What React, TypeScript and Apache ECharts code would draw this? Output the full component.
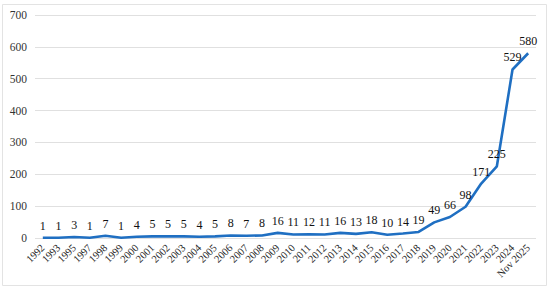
import React, { useEffect, useRef } from "react";
import * as echarts from "echarts";

const categories = ["1992","1993","1995","1997","1998","1999","2000","2001","2002","2003","2004","2005","2006","2007","2008","2009","2010","2011","2012","2013","2014","2015","2016","2017","2018","2019","2020","2021","2022","2023","2024","Nov 2025"];
const values = [1,1,3,1,7,1,4,5,5,5,4,5,8,7,8,16,11,12,11,16,13,18,10,14,19,49,66,98,171,225,529,580];
const yTicks = [0, 100, 200, 300, 400, 500, 600, 700];

const SERIF = "Liberation Serif";

export default function App() {
  const ref = useRef<HTMLDivElement>(null);
  useEffect(() => {
    if (!ref.current) return;
    const chart = echarts.init(ref.current, null, { renderer: "svg" });
    chart.setOption({
      animation: false,
      textStyle: { fontFamily: SERIF },
      graphic: [
        {
          type: "rect",
          shape: { x: 2.5, y: 4.5, width: 544, height: 281 },
          style: { fill: "none", stroke: "#e3e3e3", lineWidth: 1 },
          silent: true,
          z: -1,
        },
      ],
      grid: { left: 35, right: 14, top: 15, bottom: 53, containLabel: false },
      xAxis: {
        type: "category",
        data: categories,
        boundaryGap: true,
        axisLine: { show: false },
        axisTick: { show: false },
        axisLabel: {
          rotate: 45,
          interval: 0,
          fontSize: 10.5,
          color: "#222",
          fontFamily: SERIF,
          margin: 8,
        },
      },
      yAxis: {
        type: "value",
        min: yTicks[0],
        max: yTicks[yTicks.length - 1],
        interval: 100,
        axisLine: { show: false },
        axisTick: { show: false },
        splitLine: { lineStyle: { color: "#e0e0e0", width: 1 } },
        axisLabel: {
          fontSize: 11.5,
          color: "#333",
          fontFamily: SERIF,
          margin: 8,
        },
      },
      series: [
        {
          type: "line",
          data: values,
          showSymbol: true,
          symbol: "circle",
          symbolSize: 0.01,
          itemStyle: { color: "#1f6fc2" },
          lineStyle: { color: "#1f6fc2", width: 2.6 },
          label: {
            show: true,
            position: "top",
            distance: 6,
            fontSize: 12,
            color: "#111",
            fontFamily: SERIF,
          },
          labelLayout: { hideOverlap: false },
        },
      ],
    });
    return () => chart.dispose();
  }, []);
  return (
    <div
      ref={ref}
      style={{ position: "fixed", left: 0, top: 0, width: 550, height: 291, background: "#fff" }}
    />
  );
}
